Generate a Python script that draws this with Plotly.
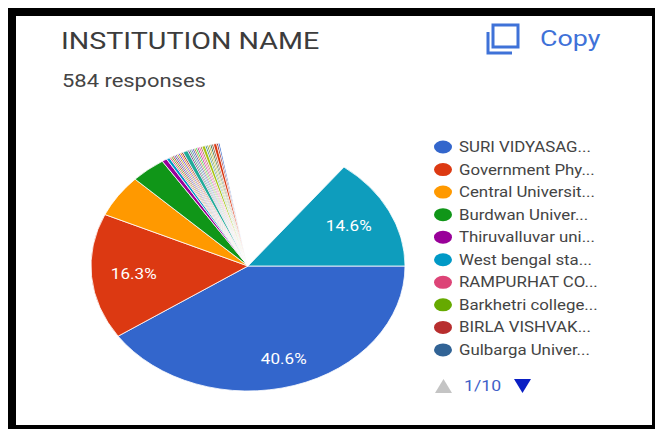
import math
import plotly.graph_objects as go

W, H = 655, 429
TITLE = "INSTITUTION NAME"
SUBTITLE = "584 responses"
COPY_LABEL = "Copy"
PAGER = "1/10"

legend_labels = ["SURI VIDYASAG...", "Government Phy...", "Central Universit...", "Burdwan Univer...",
                 "Thiruvalluvar uni...", "West bengal sta...", "RAMPURHAT CO...", "Barkhetri college...",
                 "BIRLA VISHVAK...", "Gulbarga Univer..."]
legend_colors = ["#3366cc", "#dc3912", "#ff9900", "#109618", "#990099",
                 "#0099c6", "#dd4477", "#66aa00", "#b82e2e", "#316395"]

major_values = [237, 95, 32, 21]
major_colors = ["#3366cc", "#dc3912", "#ff9900", "#109618"]
stripe_values = [3, 2, 1, 1, 1, 1, 1, 1, 1, 1, 1, 3, 1, 1, 1, 1, 1, 1, 1, 1, 1, 2, 1, 1, 1, 1, 1, 2, 1, 1]
stripe_colors = ["#990099", "#0099c6", "#dd4477", "#66aa00", "#b82e2e", "#316395", "#994499",
                 "#aaaa11", "#6633cc", "#e67300", "#8b0707", "#22aa99", "#651067", "#329262",
                 "#5574a6", "#3b3eac", "#b77322", "#16d620", "#b91383", "#f4359e", "#9c5935",
                 "#a9c413", "#2a778d", "#668d1c", "#bea413", "#0c5922", "#743411", "#dc3912", "#8b0707",
                 "#3366cc"]
blank_value = [78]
last_value = [85]
last_color = ["#0e9dbd"]
percent_labels = {0: "40.6%", 1: "16.3%", "last": "14.6%"}

values = major_values + stripe_values + blank_value + last_value
colors = major_colors + stripe_colors + ["#ffffff"] + last_color
names = legend_labels[:4] + [f"Institution {i + 5}" for i in range(len(stripe_values))] + ["Other", "Other institutions"]

# Pie geometry in pixels: circle drawn with ry, widened to rx in the page script
CX, CY, RX, RY = 248.0, 266.0, 157.0, 125.0
TEXT_STRETCH = 1.22
LABEL_RADIUS = {0: 0.78, 1: 0.73, "last": 0.72}


def px(x):
    return x / W


def py(y):
    return 1 - y / H


fig = go.Figure(go.Pie(
    labels=names, values=values, sort=False, direction="clockwise", rotation=90,
    marker=dict(colors=colors, line=dict(color="#ffffff", width=0.8)),
    textinfo="none", hoverinfo="label+percent", showlegend=False,
    domain=dict(x=[px(CX - RY), px(CX + RY)], y=[py(CY + RY), py(CY - RY)]),
))

shapes = []
annotations = []


def rect(x0, y0, x1, y1, fill, line=None, lw=0):
    shapes.append(dict(type="rect", xref="paper", yref="paper", x0=px(x0), x1=px(x1), y0=py(y0), y1=py(y1),
                       fillcolor=fill, line=dict(color=line or fill, width=lw), layer="above"))


def text(x, y, s, size, color, anchor="left", family="Roboto, sans-serif"):
    annotations.append(dict(xref="paper", yref="paper", x=px(x - 2 if anchor == "left" else x), y=py(y),
                            text=s, showarrow=False, xanchor=anchor, yanchor="middle", align=anchor,
                            font=dict(size=size, color=color, family=family)))


# Frame
rect(8, 8, 655, 16, "#000000")
rect(8, 425, 655, 429, "#000000")
rect(8, 8, 16, 429, "#000000")
rect(652, 8, 655, 429, "#000000")

# Header
text(61, 41, TITLE, 23.5, "#3c3c3c")
text(62, 80, SUBTITLE, 18, "#444444")
text(540, 38, COPY_LABEL, 22, "#3f72d8")

# Copy icon
BLUE = "#3f72d8"
rect(493, 25, 518, 47, "rgba(0,0,0,0)", BLUE, 3)
shapes.append(dict(type="path", xref="paper", yref="paper", layer="above",
                   path=f"M {px(488)} {py(32)} L {px(488)} {py(53)} L {px(512)} {py(53)}",
                   line=dict(color=BLUE, width=3)))

# Percent labels from the slice values
total = sum(values)
slice_index = {0: 0, 1: 1, "last": len(values) - 1}
for key, label in percent_labels.items():
    i = slice_index[key]
    start = sum(values[:i])
    mid = math.radians(90 + 360 * (start + values[i] / 2) / total)
    r = LABEL_RADIUS[key]
    text(CX + r * RX * math.sin(mid), CY - r * RY * math.cos(mid), label, 14, "#ffffff", "center")

# Legend
for i, (lab, col) in enumerate(zip(legend_labels, legend_colors)):
    yy = 147 + i * 22.55
    shapes.append(dict(type="circle", xref="paper", yref="paper", layer="above",
                       x0=px(434), x1=px(452), y0=py(yy - 6.5), y1=py(yy + 6.5),
                       fillcolor=col, line=dict(width=0)))
    text(459, yy, lab, 13.8, "#444444")

# Pager
shapes.append(dict(type="path", xref="paper", yref="paper", layer="above",
                   path=f"M {px(435)} {py(393)} L {px(452)} {py(393)} L {px(443.5)} {py(379)} Z",
                   fillcolor="#c4c4c4", line=dict(width=0)))
text(464, 386, PAGER, 14.5, "#3f5fc8")
shapes.append(dict(type="path", xref="paper", yref="paper", layer="above",
                   path=f"M {px(514)} {py(379)} L {px(531)} {py(379)} L {px(522.5)} {py(393)} Z",
                   fillcolor="#0a1fc4", line=dict(width=0)))

fig.update_layout(width=W, height=H, margin=dict(l=0, r=0, t=0, b=0), autosize=False,
                  paper_bgcolor="#ffffff", plot_bgcolor="#ffffff",
                  shapes=shapes, annotations=annotations, showlegend=False)

post = f"""
document.body.style.margin = '0';
document.body.style.overflow = 'hidden';
document.querySelectorAll('.pielayer path.surface').forEach(function (p) {{
  var t = p.getAttribute('transform') || '';
  p.setAttribute('transform', t + ' translate({CX}, 0) scale({RX / RY}, 1) translate({-CX}, 0)');
  p.setAttribute('vector-effect', 'non-scaling-stroke');
}});
document.querySelectorAll('text.annotation-text').forEach(function (t) {{
  var b = t.getBBox();
  var white = (t.style.fill || '').indexOf('255, 255, 255') >= 0;
  var ax = white ? b.x + b.width / 2 : b.x;
  var tr = t.getAttribute('transform') || '';
  t.setAttribute('transform', tr + ' translate(' + ax + ', 0) scale({TEXT_STRETCH}, 1) translate(' + (-ax) + ', 0)');
}});
"""
fig.write_html("out.html", post_script=post, config=dict(displayModeBar=False))
